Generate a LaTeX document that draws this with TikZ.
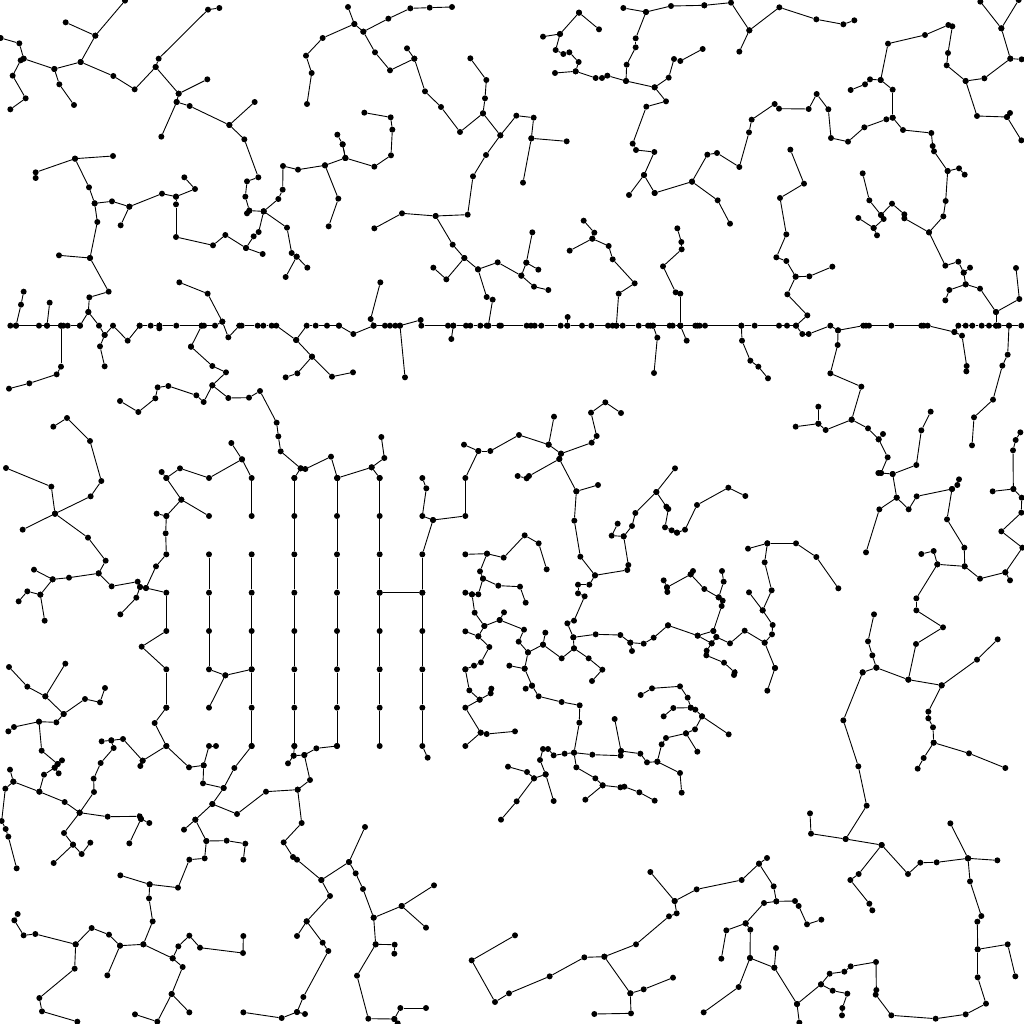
\documentclass[tikz,border=0pt]{standalone}
\newcount\nid
\def\ox{0}\def\oy{0}
\newcommand\Tl[2]{\gdef\ox{#1}\gdef\oy{#2}}
\tikzset{dot/.style={circle,fill=black,inner sep=0pt,minimum size=6pt},
  edge/.style={draw=black,line width=0.9pt}}
\newcommand\chain[1]{\foreach \px/\qy [count=\ci] in {#1}{%
  \global\advance\nid by 1
  \node[dot] (n\the\nid) at ({\ox+\px/3},{\oy+\qy/3}) {};
  \ifnum\ci>1 \draw[edge] (n\the\numexpr\nid-1\relax) -- (n\the\nid);\fi}}
\begin{document}
\begin{tikzpicture}[x=1pt,y=-1pt]
\useasboundingbox (0,0) rectangle (1024,1024);
% tile 1
\Tl{0}{0}
\chain{375/2,286/107,242/186,163/207,71/176,62/181,38/227,77/295,31/328}
\chain{197/67,286/107}
\chain{2/114,58/130,71/176}
\chain{163/207,178/253,222/315}
\chain{242/186,340/228,404/268,467/201,536/281,622/238}
\chain{658/24,624/29,476/176,467/201}
\chain{536/281,530/306,484/410}
\chain{530/306,569/318,688/375,764/306}
\chain{688/375,733/418,775/532,741/544,736/590,748/632,741/640}
\chain{748/632,791/634,835/597,848/569,849/498,894/509,975/496,1015/596,986/679}
\chain{975/496,1036/474}
\chain{791/634,776/696,761/709,738/744,676/705,639/736,528/711,528/613,528/590,486/581,388/620,336/604,284/610,267/562,225/476,107/517,107/534}
\chain{225/476,339/468}
\chain{528/590,585/567,553/532}
\chain{388/620,362/676}
\chain{284/610,292/666,270/774,177/766}
\chain{270/774,326/875,268/892,265/936,240/977}
\chain{265/936,297/977,314/1005,339/977,383/1022,419/977}
\chain{738/744,788/762}
\chain{791/634,861/683,875/759,890/770,922/803}
\chain{890/770,857/831}
\chain{1063/72,968/114,918/167,935/219,921/312}
\chain{1012/404,1028/433,1036/474}
\chain{31/977,48/977,117/977,141/977,183/977,190/977,203/977,240/977}
\chain{419/977,452/977,478/977,529/977,605/977,612/977,645/977,667/965,685/1012,718/977,725/977,773/977,790/977,815/977,829/977,888/1020,920/977,947/977,981/977,1017/977}
\chain{478/977,478/985}
\chain{48/977,63/914,71/875}
\chain{141/977,149/908}
\chain{538/847,623/881,667/965}
\chain{605/977,573/1040}
% tile 2
\Tl{341}{0}
\chain{-6/977,37/1002,98/977,132/977,147/977,163/977,177/977,239/960,241/977,321/977,337/977,375/977,388/977,418/977,437/977,442/977,475/977,480/977,557/977,570/977,581/977,601/977,659/977,679/977,723/977,751/977,801/977,815/977,826/977,845/977,893/977,921/977,928/977,936/977,986/977,995/977,1018/977}
\chain{98/977,89/957,118/847}
\chain{177/977,192/1132}
\chain{337/977,331/1017}
\chain{442/977,455/899,437/891,411/808,370/774,335/734,284/648,183/640,100/685}
\chain{284/648,380/644,396/529,435/465,478/406,426/340,432/295,436/240,388/175}
\chain{426/340,357/396,300/321,252/274,220/176,198/145}
\chain{220/176,147/211,102/157,67/95,40/72,21/21}
\chain{67/95,142/56,208/25,266/23,333/21}
\chain{411/808,470/787,541/827,556/788,574/697}
\chain{556/788,592/809}
\chain{541/827,579/860,622/870}
\chain{370/774,316/838,277/803}
\chain{478/406,526/347,578/353,571/415,677/424}
\chain{571/415,546/548}
\chain{5/433,13/474,100/500,150/466,154/389,149/352,70/338}
\chain{714/38,774/88}
\chain{714/38,657/102,606/110}
\chain{657/102,644/150,667/162,685/157,713/186,704/214,642/219}
\chain{704/214,764/234,783/234,799/227,855/243,941/262,975/304,916/320,875/431,885/450,940/456,909/525,864/585}
\chain{909/525,941/579}
\chain{941/262,983/233,999/177,1018/183,1085/147}
\chain{855/243,857/194,884/142,884/115,915/36,847/24}
\chain{915/36,990/18,1090/16}
\chain{728/662,760/698,754/716,686/752}
\chain{754/716,803/738,815/778,881/850,833/881,826/977}
\chain{1009/685,1021/726,1022/748,966/799,1004/877,1018/881,1018/977}
\chain{936/977,949/1013,939/1119}
\chain{679/977,680/951}
% tile 3
\Tl{682}{0}
\chain{67/16,147/8,202/91,292/22,403/58,484/73,517/61}
\chain{202/91,172/155}
\chain{-5/977,40/977,46/977,53/977,69/977,178/977,218/977,291/977,315/977,342/977,361/1002,380/1002,445/977,468/991,544/977,552/977,561/977,628/977,718/977,725/977,737/977,817/996,829/977,851/977,871/977,899/977,921/977,942/977,950/977,981/977,1018/977,1035/977}
\chain{342/977,376/946,316/883,341/830,382/829,451/800}
\chain{341/830,313/783,283/772,313/703,294/594,366/551,325/449}
\chain{817/996,840/1007,854/1098,853/1114}
\chain{178/977,180/1022,205/1082,229/1100,258/1135}
\chain{-5/977,14/1022}
\chain{468/991,467/1035,445/1120,538/1160,509/1259,431/1290,409/1271,341/1280}
\chain{409/1271,409/1220}
\chain{509/1259,558/1285,590/1318,603/1302}
\chain{590/1318,617/1372,597/1419,589/1419}
\chain{597/1419,632/1422,703/1395,718/1291,746/1235}
\chain{632/1422,644/1493,592/1528,552/1657}
\chain{644/1493,680/1528,704/1489,810/1467,826/1455,831/1438}
\chain{810/1467,795/1558,847/1643,848/1699,766/1693,755/1653,718/1662}
\chain{766/1693,703/1795,703/1831,783/1882,702/1932,679/2039}
\chain{848/1699,894/1736,970/1717,984/1741}
\chain{970/1717,1021/1643,958/1594,1018/1538,1019/1493,994/1467,932/1474}
\chain{994/1467,993/1351,1001/1320,1015/1297}
\chain{870/1336,876/1252,933/1199,961/1097,977/1064,981/977}
\chain{942/977,942/936,1012/897,1002/804}
\chain{942/936,894/866,851/853,845/818,829/785,790/797,741/697,784/649,791/603,797/513,831/505,848/524}
\chain{845/818,864/803}
\chain{851/853,802/870,790/901}
\chain{797/513,756/454,752/438,748/399,663/390,632/353,632/269,596/240,618/131,729/105,799/75,811/79,798/159,794/196,851/243,907/235,985/176,1019/178}
\chain{985/176,958/85,895/5}
\chain{958/85,1010/0}
\chain{851/243,885/348,975/351,984/339}
\chain{975/351,1018/421}
\chain{596/240,564/238,549/253,506/270}
\chain{632/353,613/358,547/382,498/425,447/414,439/328,404/282,380/327,291/326,278/312,209/359,201/397,172/501,105/459,76/464,30/545,107/601,144/671}
\chain{30/545,-82/579}
\chain{542/520,562/601,597/645,605/657,575/684,529/654}
\chain{575/684,585/706}
\chain{597/645,630/611,667/643,667/655,741/697}
% tile 4
\Tl{0}{341}
\chain{183/-46,183/77,170/100,88/127,27/143}
\chain{314/-18,300/16,314/76}
\chain{573/17,637/75,678/94,637/133,611/183,589/163,505/135,473/139,466/172,415/213,360/180}
\chain{637/133,685/171,747/170,780/150,830/245,835/286,842/331,902/382,916/384,993/347,1012/411}
\chain{902/382,883/411}
\chain{889/-3,936/47,892/97,857/109}
\chain{936/47,996/107,1059/94}
\chain{160/257,201/231,270/300,304/420,272/466,165/518,154/437,18/381}
\chain{165/518,68/566}
\chain{165/518,264/590,317/659,296/697,207/710,158/715,102/686}
\chain{158/715,121/761,82/751,56/781}
\chain{121/761,134/839}
\chain{296/697,335/736,413/722,420/738,438/741,468/676,499/640,497/577,499/525,470/518}
\chain{499/525,544/476,499/411,485/393}
\chain{499/411,540/382,627/411,726/355,694/306}
\chain{726/355,755/411,755/525}
\chain{544/476,627/525}
\chain{420/738,409/770,361/820}
\chain{438/741,499/755,499/870,425/917,499/985,499/1100}
\chain{627/640,627/755,627/870,627/985,676/1003,755/985}
\chain{676/1003,627/1100}
\chain{755/640,755/755,755/870,755/985,755/1100,755/1215}
\chain{883/411,883/525,883/640,883/755,883/870,883/985,883/1100,883/1215}
\chain{1011/411,1011/525,1011/640,1011/755,1011/870,1011/985,1011/1100,1011/1215}
% tile 5
\Tl{341}{341}
\chain{116/411,116/525,116/640,116/755,116/870,116/985,116/1100,116/1215}
\chain{244/411,256/442,244/525,276/537,244/640,244/755,244/870,244/985,244/1100,244/1215,260/1250}
\chain{116/755,244/755}
\chain{276/537,373/525,373/411,412/330,369/311}
\chain{412/330,448/330,534/282,623/311,660/338,752/305,767/285,750/215,793/184,840/216}
\chain{623/311,639/227}
\chain{660/338,655/354,564/405,557/412,530/405}
\chain{655/354,706/451,771/432}
\chain{706/451,700/539,718/647,762/703,859/687,862/672,848/586,812/584,830/548}
\chain{848/586,873/555,883/516,946/453,1002/382}
\chain{946/453,976/497,982/504,972/559,992/568,1008/575}
\chain{116/411,92/379,130/351,121/288}
\chain{92/379,-11/411}
\chain{762/703,745/731,711/731,711/757,731/766,699/839,679/847,697/889,764/880,838/882,868/905,908/908,938/890,981/853}
\chain{868/905,873/930}
\chain{697/889,699/922,662/952,606/911,613/875}
\chain{606/911,561/934,533/902,549/866,476/837,430/855,401/815,393/760,373/755}
\chain{393/760,412/760,426/713,472/734,537/737,554/785}
\chain{426/713,417/691,438/638,373/640}
\chain{438/638,488/650,551/583,593/607,617/685}
\chain{476/837,489/814}
\chain{430/855,412/886,373/871}
\chain{412/886,445/918,420/964,399/974,373/985}
\chain{561/934,551/983,505/974}
\chain{699/922,743/952,784/986,753/1020}
\chain{968/718,978/739,979/753}
% tile 6
\Tl{682}{341}
\chain{-15/575,9/566,45/492,139/440,190/465}
\chain{-45/739,26/700,33/690}
\chain{26/700,67/744,110/769,122/779,119/795,94/870,103/888,144/907,188/869,248/905,270/880,272/852,242/808,201/754}
\chain{242/808,269/748,248/664,256/607,198/623}
\chain{256/607,342/607,403/648,469/742}
\chain{110/769,125/722,120/690}
\chain{103/888,89/907,74/929,73/943,126/965,158/994,156/1002}
\chain{248/905,279/981}
\chain{94/870,47/884,-42/853}
\chain{47/884,89/907}
\chain{576/820,558/901,571/943,583/980,679/1016,779/1033,885/956,947/895}
\chain{583/980,542/994}
% tile 7
\Tl{0}{682}
\chain{499/77,464/123,499/192,428/236,421/252}
\chain{428/236,369/171,334/175,305/178}
\chain{334/175,341/198,302/243,281/290,282/330,239/392,194/360,118/329,40/299,30/263}
\chain{40/299,16/320,5/417,17/441,25/464,50/559}
\chain{118/329,132/278,164/257,173/246,186/235}
\chain{173/246,125/206,117/119,169/121,191/96,255/51,300/61,315/18}
\chain{191/96,136/43,82/14,27/-45}
\chain{136/43,196/-55}
\chain{117/119,42/135,25/148}
\chain{164/257,176/274}
\chain{239/392,323/404,419/403,423/411,448/423}
\chain{423/411,388/484}
\chain{239/392,192/453,219/488,245/516,271/482}
\chain{219/488,161/543}
\chain{499/192,567/256,611/250,627/192,648/192}
\chain{611/250,609/304,671/318,703/258,755/192}
\chain{671/318,637/366,711/396,798/329,893/323,930/294,913/219,881/221,864/244}
\chain{881/221,883/192}
\chain{913/219,949/199,1011/192}
\chain{637/366,586/413,552/443}
\chain{586/413,619/477,680/476,736/485,730/533}
\chain{619/477,614/529,568/533,534/617,449/607,361/580}
\chain{449/607,447/649,458/718,430/787,360/791,327/758,275/738,227/787,106/756,71/760,43/715,53/696}
\chain{227/787,224/860,118/948,126/988,232/1019}
\chain{360/791,322/880}
\chain{430/787,518/829,548/855,515/936,568/991}
\chain{515/936,472/1019,405/997}
\chain{518/829,535/793,568/761,600/797,729/813,730/762}
\chain{893/323,905/423,851/481,879/525,891/533,964/594,990/642,920/718,968/782,985/807,910/945,891/990,845/1008,730/991}
\chain{891/990,915/996}
\chain{920/718,891/762}
% tile 8
\Tl{341}{682}
\chain{373/-38,385/25,416/53,449/34,451/20}
\chain{416/53,373/77,419/152,437/156,522/148}
\chain{419/152,373/192}
\chain{551/-40,573/11,593/43,662/60,716/70,715/122,699/212,706/256,763/289,785/310,838/316,850/314,895/331,941/356}
\chain{573/11,554/20}
\chain{785/310,733/353}
\chain{899/39,933/19,1017/13,1040/47,1049/77,1063/83,1083/103,1163/157}
\chain{968/103,997/78,1049/77}
\chain{1083/103,1062/142,1035/154,1069/209}
\chain{1035/154,975/168,962/187,949/239,918/241,898/215,840/207,821/111}
\chain{840/207,839/221,754/218,699/212,671/215,638/220,621/201,606/201,597/234,614/277,638/357}
\chain{614/277,579/289,558/270,501/254}
\chain{579/289,527/358,480/413}
\chain{949/239,1017/273,1022/332}
\chain{72/435,24/540,44/574,66/621,98/707,104/787,48/881,82/1010,160/1011,178/978,255/978}
\chain{160/1011,170/1024}
\chain{24/540,-59/594}
\chain{98/707,182/672,279/610}
\chain{182/672,255/737}
\chain{104/787,161/788,160/815}
\chain{928/570,1001/657,1007/694,984/703,885/787,790/824,730/826,626/883,504/934,462/960,392/835,522/760}
\chain{790/824,868/934,870/994,760/996}
\chain{868/934,908/922,996/887}
% tile 9
\Tl{682}{682}
\chain{279/-42,256/26}
\chain{542/-29,484/115,529/253,554/371,491/471,387/455,384/394}
\chain{491/471,599/489,530/576,505/594,562/665,571/685}
\chain{599/489,678/576,715/542,764/541,858/529,946/535}
\chain{858/529,805/424}
\chain{858/529,864/598,898/702,886/719,887/802,977/787,1000/883}
\chain{887/802,887/886,912/965,851/997,761/1010,628/1000,581/938,583/924,582/840,506/853,487/869,443/875,417/907,345/966,352/1022}
\chain{417/907,452/926,496/935,481/978,480/1000}
\chain{345/966,277/857,282/798}
\chain{277/857,204/828,170/915,65/991}
\chain{204/828,205/743,191/724,133/745,118/830}
\chain{191/724,246/663,283/658,339/657,350/672,375/727,418/713}
\chain{283/658,275/613,231/545,255/528}
\chain{231/545,179/594,44/622,-22/657}
\chain{779/10,739/89,739/109,753/136,755/182,725/228,707/260}
\chain{755/182,861/214,970/258}
\end{tikzpicture}
\end{document}
